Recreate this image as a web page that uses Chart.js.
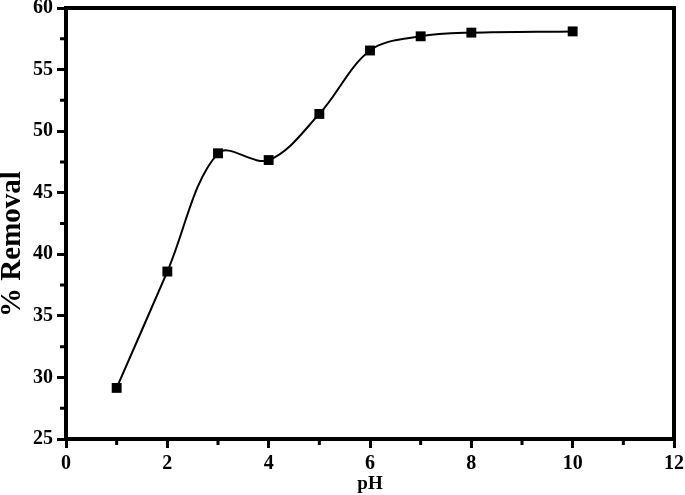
<!DOCTYPE html>
<html>
<head>
<meta charset="utf-8">
<script src="https://cdn.jsdelivr.net/npm/chart.js@4"></script>
<style>
  html, body { margin: 0; padding: 0; background: #fff; }
  #wrap { width: 685px; height: 495px; }
</style>
</head>
<body>
<div id="wrap"><canvas id="chart" width="685" height="495"></canvas></div>
<script>
// pH vs % removal
const phValues = [1, 2, 3, 4, 5, 6, 7, 8, 10];
const removal = [29.15, 38.6, 48.2, 47.65, 51.4, 56.55, 57.7, 58.0, 58.1];
const xTicks = [0, 2, 4, 6, 8, 10, 12];
const yTicks = [25, 30, 35, 40, 45, 50, 55, 60];
const yTitle = '% Removal';

const FONT = '"Liberation Serif", "Times New Roman", serif';

// frame, minor ticks and the y title (the title sits a bit below centre in the original)
const framePlugin = {
    id: 'frame',
    afterDraw: (chart) => {
        const { ctx, chartArea: a, scales } = chart;
        ctx.save();
        ctx.strokeStyle = '#000';
        ctx.lineWidth = 4;
        ctx.strokeRect(a.left, a.top, a.right - a.left, a.bottom - a.top);

        // minor ticks
        ctx.lineWidth = 3;
        ctx.beginPath();
        for (let v = 1; v < 12; v += 2) {
            const px = scales.x.getPixelForValue(v);
            ctx.moveTo(px, a.bottom);
            ctx.lineTo(px, a.bottom + 6);
        }
        for (let v = 27.5; v < 60; v += 5) {
            const py = scales.y.getPixelForValue(v);
            ctx.moveTo(a.left, py);
            ctx.lineTo(a.left - 6, py);
        }
        ctx.stroke();

        // y title
        ctx.translate(13, 244);
        ctx.rotate(-Math.PI / 2);
        ctx.fillStyle = '#000';
        ctx.font = `bold 29px ${FONT}`;
        ctx.textAlign = 'center';
        ctx.textBaseline = 'middle';
        ctx.fillText(yTitle, 0, 0);
        ctx.restore();
    }
};

new Chart(document.getElementById('chart').getContext('2d'), {
    type: 'line',
    data: {
        datasets: [{
            data: phValues.map((x, i) => ({ x, y: removal[i] })),
            borderColor: '#000',
            borderWidth: 2,
            backgroundColor: '#000',
            pointStyle: 'rect',
            pointRadius: 7,
            pointBorderWidth: 0,
            tension: 0.35,
            fill: false
        }]
    },
    options: {
        responsive: false,
        animation: false,
        layout: { padding: { top: 8, right: 11, left: 0, bottom: 0 } },
        plugins: { legend: { display: false }, tooltip: { enabled: false } },
        scales: {
            x: {
                type: 'linear',
                min: 0, max: 12,
                afterBuildTicks: (s) => { s.ticks = xTicks.map(v => ({ value: v })); },
                afterFit: (s) => { s.height = 56; s.paddingRight = 0; s.paddingLeft = 0; },
                grid: { drawOnChartArea: false, tickLength: 9, tickWidth: 3, tickColor: '#000' },
                border: { display: false },
                ticks: { color: '#000', font: { family: FONT, size: 20, weight: 'bold' }, padding: 4 },
                title: {
                    display: true, text: 'pH', color: '#000',
                    font: { family: FONT, size: 19, weight: 'bold' }, padding: { top: 0, bottom: 0 }
                }
            },
            y: {
                min: 25, max: 60,
                afterBuildTicks: (s) => { s.ticks = yTicks.map(v => ({ value: v })); },
                afterFit: (s) => { s.width = 66; s.paddingTop = 0; s.paddingBottom = 0; },
                grid: { drawOnChartArea: false, tickLength: 9, tickWidth: 3, tickColor: '#000' },
                border: { display: false },
                ticks: { color: '#000', font: { family: FONT, size: 20, weight: 'bold' }, padding: 4 }
            }
        }
    },
    plugins: [framePlugin]
});
</script>
</body>
</html>
